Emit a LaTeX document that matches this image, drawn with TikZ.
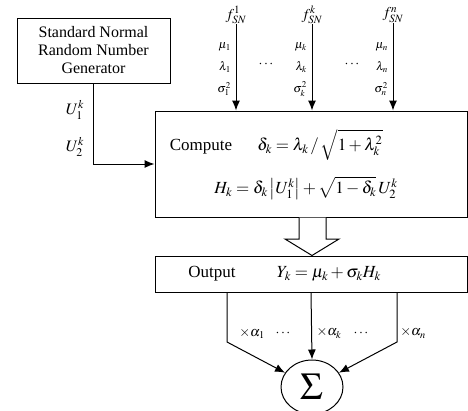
\documentclass[tikz,border=0pt]{standalone}
\usepackage{mathptmx}
\usepackage{fontspec}
\setmainfont{Liberation Serif}
\usetikzlibrary{arrows.meta,shapes.geometric}
\begin{document}
\begin{tikzpicture}[x=1pt,y=-1pt,
  box/.style={draw,line width=1pt,rectangle,inner sep=0pt},
  txt/.style={inner sep=0pt,font=\fontsize{17}{19}\selectfont},
  par/.style={inner sep=0pt,anchor=east,font=\fontsize{12}{13}\selectfont},
  lab/.style={inner sep=0pt,font=\fontsize{14}{15}\selectfont},
  con/.style={line width=1pt,-{Latex[length=10pt,width=8pt]}},
  wire/.style={line width=1pt}]
\useasboundingbox (0,0) rectangle (468,410);
% boxes
\node[box,minimum width=153pt,minimum height=65pt,align=center,
  font=\fontsize{16}{18}\selectfont] (gen) at (93.5,50.5)
  {Standard Normal\\Random Number\\Generator};
\node[box,minimum width=312pt,minimum height=106pt] (compute) at (311,164) {};
\node[box,minimum width=312pt,minimum height=36pt] (output) at (311,274) {};
% compute texts
\node[txt] (ctext) at (201,147) {Compute};
\node[txt] (delta) at (320,145) {$\delta_k=\lambda_k\,/\,\sqrt{1+\lambda_k^2}$};
\node[txt] (hk) at (306,188) {$H_k=\delta_k\left|U_1^k\right|+\sqrt{1-\delta_k}\,U_2^k$};
% output texts
\node[txt] (otext) at (212,274) {Output};
\node[txt] (yk) at (329,274) {$Y_k=\mu_k+\sigma_k H_k$};
% generator to compute
\draw[con] (gen.south) |- (compute.west);
\node[lab,font=\fontsize{16}{17}\selectfont] (u1) at (75,110) {$U_1^k$};
\node[lab,font=\fontsize{16}{17}\selectfont] (u2) at (75,147) {$U_2^k$};
% top inputs
\node[lab,font=\fontsize{15}{16}\selectfont] (f1) at (236,15) {$f_{SN}^{1}$};
\node[lab,font=\fontsize{15}{16}\selectfont] (fk) at (312,15) {$f_{SN}^{k}$};
\node[lab,font=\fontsize{15}{16}\selectfont] (fn) at (393,15) {$f_{SN}^{n}$};
\draw[con] (f1.south) -- (f1.south |- compute.north);
\draw[con] (fk.south) -- (fk.south |- compute.north);
\draw[con] (fn.south) -- (fn.south |- compute.north);
\node[par] (mu1) at (231,47) {$\mu_1$};
\node[par] (la1) at (231,67) {$\lambda_1$};
\node[par] (si1) at (231,89) {$\sigma_1^2$};
\node[par] (muk) at (307,47) {$\mu_k$};
\node[par] (lak) at (307,67) {$\lambda_k$};
\node[par] (sik) at (307,89) {$\sigma_k^2$};
\node[par] (mun) at (388,47) {$\mu_n$};
\node[par] (lan) at (388,67) {$\lambda_n$};
\node[par] (sin) at (388,89) {$\sigma_n^2$};
\node[lab] (dots1) at (266,64) {$\cdots$};
\node[lab] (dots2) at (352,64) {$\cdots$};
% hollow arrow
\draw[wire,fill=white] (299,217.5) -- (299,239) -- (285,239) -- (312,255.5)
  -- (339,239) -- (326,239) -- (326,217.5);
% sum
\node[draw,line width=1pt,ellipse,minimum width=62pt,minimum height=54pt,inner sep=0pt]
  (sum) at (312,387) {\fontsize{38}{38}\selectfont$\Sigma$};
\coordinate (o1) at (227,292);
\coordinate (b1) at (227,342);
\coordinate (o3) at (397,292);
\coordinate (b3) at (397,342);
\draw[con] (o1) -- (b1) -- (sum);
\draw[con] (o3) -- (b3) -- (sum);
\draw[con] (output.south) -- (sum.north);
\node[lab] (a1) at (252,333) {$\times\alpha_1$};
\node[lab] (d3) at (283,333) {$\cdots$};
\node[lab] (ak) at (329,333) {$\times\alpha_k$};
\node[lab] (d4) at (361,333) {$\cdots$};
\node[lab] (an) at (413,333) {$\times\alpha_n$};
\end{tikzpicture}
\end{document}
